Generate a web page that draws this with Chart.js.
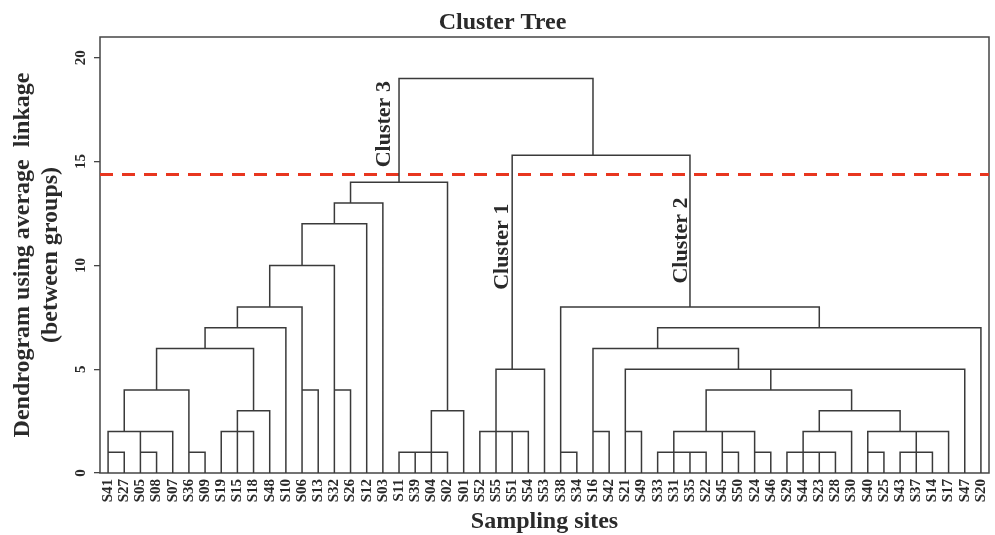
<!DOCTYPE html>
<html>
<head>
<meta charset="utf-8">
<script src="https://cdn.jsdelivr.net/npm/chart.js@4.4.0/dist/chart.umd.min.js"></script>
<style>
html,body{margin:0;padding:0;background:#ffffff;}
canvas{display:block;}
</style>
</head>
<body>
<canvas id="c" width="995" height="535"></canvas>
<script>
// ---------- DATA ----------
const leaves = ["S41","S27","S05","S08","S07","S36","S09","S19","S15","S18","S48","S10","S06","S13","S32","S26","S12","S03",
  "S11","S39","S04","S02","S01","S52","S55","S51","S54","S53","S38","S34","S16","S42","S21","S49","S33","S31","S35","S22",
  "S45","S50","S24","S46","S29","S44","S23","S28","S30","S40","S25","S43","S37","S14","S17","S47","S20"];

// Linkage: [child A, child B, merge height]; ids < 55 are leaves, id 55+k is the k-th merge
const merges = [
  [0,1,1],[2,3,1],[56,4,2],[55,57,2],[5,6,1],[58,59,4],[7,8,2],[61,9,2],[62,10,3],[60,63,6],
  [64,11,7],[12,13,4],[65,66,8],[14,15,4],[67,68,10],[69,16,12],[70,17,13],[18,19,1],[72,20,1],[73,21,1],
  [74,22,3],[71,75,14],[23,24,2],[25,26,2],[77,78,2],[79,27,5],[28,29,1],[30,31,2],[32,33,2],[34,35,1],
  [36,37,1],[84,85,1],[38,39,1],[40,41,1],[87,88,2],[86,89,2],[42,43,1],[44,45,1],[91,92,1],[93,46,2],
  [47,48,1],[49,50,1],[96,51,1],[97,52,2],[95,98,2],[94,99,3],[90,100,4],[101,53,5],[83,102,5],[82,103,6],
  [104,54,7],[81,105,8],[80,106,15.3],[76,107,19]
];

const cutHeight = 14.38;
const yTicks = [0, 5, 10, 15, 20];
const clusterNames = ["Cluster 3", "Cluster 1", "Cluster 2"];
const clusterX = [17.1, 24.4, 35.45];
const clusterY = [16.8, 10.9, 11.2];

// ---------- LAYOUT OF THE TREE ----------
const nLeaves = leaves.length;
const stemX = leaves.map((_, i) => i);
const nodeH = leaves.map(() => 0);
const treePoints = [];
merges.forEach(([a, b, h]) => {
  const xa = stemX[a], xb = stemX[b];
  treePoints.push({x: xa, y: nodeH[a]}, {x: xa, y: h}, {x: xb, y: h}, {x: xb, y: nodeH[b]}, {x: xb, y: null});
  stemX.push(Math.floor((xa + xb) / 2));
  nodeH.push(h);
});

const FONT = '"Liberation Serif", "Times New Roman", Times, serif';
const TXT = '#2a2a2a';

const framePlugin = {
  id: 'frame',
  beforeDatasetsDraw(chart) {
    const {ctx, chartArea: a} = chart;
    ctx.save();
    ctx.strokeStyle = '#454545';
    ctx.lineWidth = 1.5;
    ctx.strokeRect(a.left, a.top, a.right - a.left, a.bottom - a.top);
    ctx.restore();
  }
};

const clusterLabelPlugin = {
  id: 'clusterLabels',
  afterDatasetsDraw(chart) {
    const {ctx, scales: {x, y}} = chart;
    ctx.save();
    ctx.fillStyle = TXT;
    ctx.font = 'bold 22px ' + FONT;
    ctx.textAlign = 'center';
    ctx.textBaseline = 'middle';
    clusterNames.forEach((name, i) => {
      ctx.save();
      ctx.translate(x.getPixelForValue(clusterX[i]), y.getPixelForValue(clusterY[i]));
      ctx.rotate(-Math.PI / 2);
      ctx.fillText(name, 0, 0);
      ctx.restore();
    });
    ctx.restore();
  }
};

new Chart(document.getElementById('c'), {
  type: 'scatter',
  data: {
    datasets: [
      {
        data: treePoints,
        showLine: true,
        spanGaps: false,
        borderColor: '#3a3a3a',
        borderWidth: 1.5,
        pointRadius: 0,
        pointHoverRadius: 0
      },
      {
        data: [{x: -0.5, y: cutHeight}, {x: nLeaves - 0.5, y: cutHeight}],
        showLine: true,
        borderColor: '#e8361f',
        borderWidth: 3,
        borderDash: [13, 9],
        pointRadius: 0,
        pointHoverRadius: 0
      }
    ]
  },
  options: {
    responsive: false,
    animation: false,
    layout: {padding: {left: 16, right: 6, top: 0, bottom: 0}},
    plugins: {
      legend: {display: false},
      tooltip: {enabled: false},
      title: {
        display: true,
        text: 'Cluster Tree',
        color: TXT,
        font: {family: FONT, size: 24, weight: 'bold', lineHeight: 1.1},
        padding: {top: 10, bottom: 0.6}
      }
    },
    scales: {
      x: {
        type: 'linear',
        min: -0.5,
        max: nLeaves - 0.5,
        afterBuildTicks: s => { s.ticks = leaves.map((_, i) => ({value: i})); },
        afterFit: s => { s.height = 62; s.paddingLeft = 0; s.paddingRight = 0; },
        grid: {display: false, drawTicks: false},
        border: {display: false},
        ticks: {
          autoSkip: false,
          minRotation: 90,
          maxRotation: 90,
          padding: 6,
          color: TXT,
          font: {family: FONT, size: 15, weight: 'bold'},
          callback: (v) => leaves[Math.round(v)]
        },
        title: {
          display: true,
          text: 'Sampling sites',
          color: TXT,
          font: {family: FONT, size: 24, weight: 'bold', lineHeight: 1},
          padding: {top: 0, bottom: 1}
        }
      },
      y: {
        min: 0,
        max: 21,
        afterBuildTicks: s => { s.ticks = yTicks.map(v => ({value: v})); },
        afterFit: s => { s.width = 84; },
        grid: {drawOnChartArea: false, drawTicks: true, tickLength: 6, color: '#454545', lineWidth: 1.3},
        border: {display: false},
        ticks: {
          minRotation: 90,
          maxRotation: 90,
          crossAlign: 'center',
          padding: 5,
          color: TXT,
          font: {family: FONT, size: 15, weight: 'bold'}
        },
        title: {
          display: true,
          text: ['Dendrogram using average  linkage', '(between groups)'],
          color: TXT,
          font: {family: FONT, size: 24, weight: 'bold', lineHeight: 1.15},
          padding: {top: -6.8, bottom: 0}
        }
      }
    }
  },
  plugins: [framePlugin, clusterLabelPlugin]
});
</script>
</body>
</html>
